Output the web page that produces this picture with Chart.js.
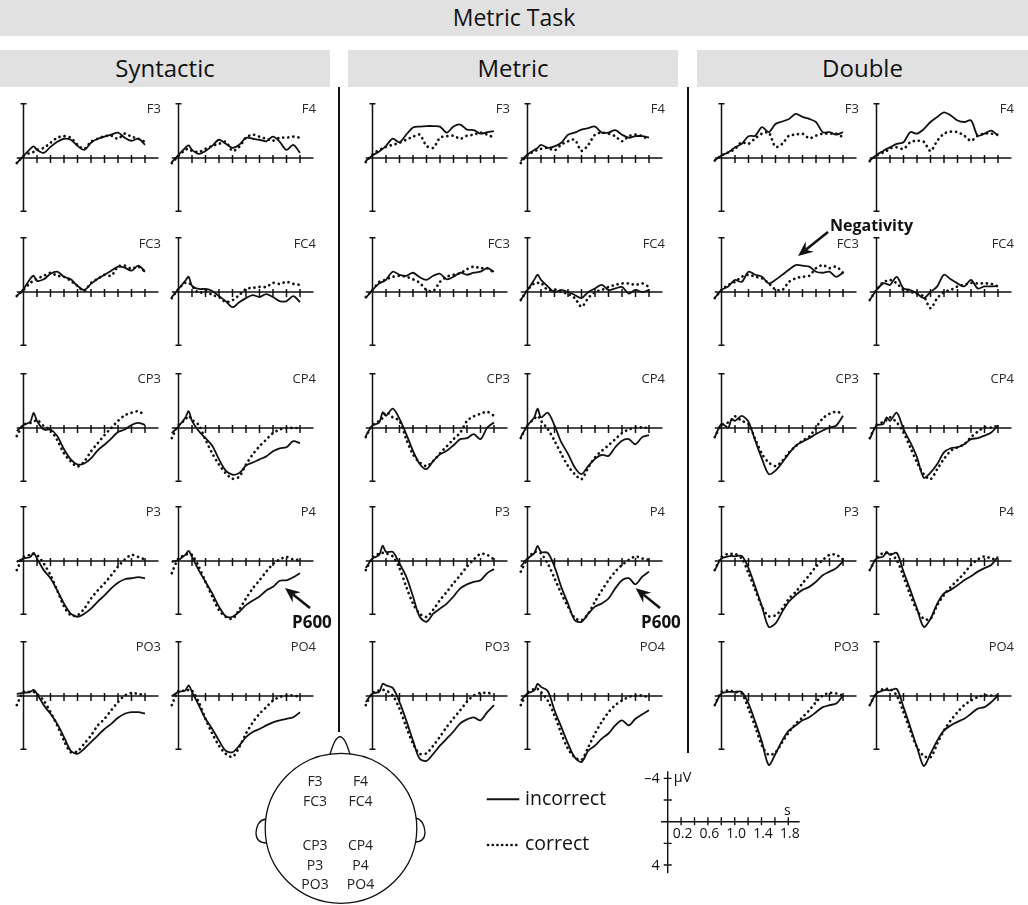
<!DOCTYPE html>
<html>
<head>
<meta charset="utf-8">
<title>Metric Task ERPs</title>
<script src="https://cdn.jsdelivr.net/npm/chart.js@4.4.1/dist/chart.umd.min.js"></script>
<style>
  html, body { margin: 0; padding: 0; background: #fff; }
  #page { position: relative; width: 1028px; height: 905px; overflow: hidden; font-family: 'Open Sans', 'Noto Sans', sans-serif; color: #111; }
  #page canvas { position: absolute; }
  .bar { position: absolute; background: #e1e1e1; text-align: center; }
  .sep { position: absolute; width: 2px; background: #111; }
  #overlay { position: absolute; left: 0; top: 0; pointer-events: none; }
</style>
</head>
<body>
<div id="page">
  <div class="bar" style="left:0;top:0;width:1028px;height:36px;font-size:23px;line-height:34px;">Metric Task</div>
  <div class="bar" style="left:0;top:50px;width:330px;height:37px;font-size:24px;line-height:35px;">Syntactic</div>
  <div class="bar" style="left:348px;top:50px;width:330px;height:37px;font-size:24px;line-height:35px;">Metric</div>
  <div class="bar" style="left:697px;top:50px;width:331px;height:37px;font-size:24px;line-height:35px;">Double</div>
  <div class="sep" style="left:338px;top:87px;height:645px;"></div>
  <div class="sep" style="left:687px;top:87px;height:666px;"></div>
</div>
<script>
// --- sample times (s) and tick marks ---
const time = [-0.1, 0, 0.1, 0.15, 0.2, 0.3, 0.4, 0.5, 0.6, 0.7, 0.8, 0.9, 1.0, 1.1, 1.2, 1.3, 1.4, 1.5, 1.6, 1.7, 1.8];
const xTicks = [0.2, 0.4, 0.6, 0.8, 1.0, 1.2, 1.4, 1.6, 1.8];
const conditions = ['Syntactic', 'Metric', 'Double'];
const electrodes = [['F3', 'F4'], ['FC3', 'FC4'], ['CP3', 'CP4'], ['P3', 'P4'], ['PO3', 'PO4']];

// scale bar
const scaleXTicks = [0.2, 0.4, 0.6, 0.8, 1.0, 1.2, 1.4, 1.6, 1.8];
const scaleXLabels = [0.2, 0.6, 1.0, 1.4, 1.8];
const scaleYTicks = [-4, -2, 2, 4];
const scaleYLabels = [-4, 4];

// --- amplitudes (negative plotted up) ---
// Syntactic
const synF3Inc = [0.5, -0.2, -0.9, -1.15, -0.8, -0.5, -1.1, -1.6, -1.9, -1.8, -1.2, -0.8, -1.5, -1.9, -2.1, -2.3, -2.5, -2.0, -1.7, -1.9, -1.3];
const synF3Cor = [0.5, -0.2, -0.5, -0.6, -0.8, -1.0, -1.5, -2.0, -2.15, -2.0, -1.3, -0.9, -1.6, -1.9, -2.15, -2.2, -1.9, -2.4, -2.1, -1.9, -1.6];
const synF4Inc = [0.4, -0.3, -1.0, -1.25, -0.8, -0.4, -0.7, -1.2, -1.8, -1.4, -1.0, -1.3, -2.0, -1.9, -1.8, -1.65, -2.1, -1.6, -0.8, -1.3, -0.5];
const synF4Cor = [0.5, -0.2, -0.8, -0.9, -0.7, -0.6, -0.9, -1.2, -1.4, -1.6, -0.7, -1.1, -2.0, -2.3, -2.1, -1.9, -1.7, -2.0, -2.0, -2.1, -2.0];
const synFC3Inc = [0.4, -0.3, -1.3, -1.6, -1.1, -1.25, -1.8, -2.0, -1.5, -1.25, -0.6, -0.2, -0.8, -1.3, -1.7, -2.1, -2.5, -2.4, -2.1, -2.6, -2.0];
const synFC3Cor = [0.4, -0.2, -0.9, -1.1, -1.3, -1.6, -1.9, -1.6, -1.5, -1.1, -0.6, -0.1, -0.9, -1.3, -1.7, -1.6, -2.5, -2.6, -2.3, -2.5, -2.0];
const synFC4Inc = [0.5, -0.3, -1.1, -1.5, -0.6, -0.3, -0.3, -0.1, 0.4, 0.9, 1.5, 1.0, 0.6, 0.3, 0.5, 0.2, 0.5, 0.9, 0.9, 0.4, 1.0];
const synFC4Cor = [0.6, -0.3, -0.9, -0.9, -0.6, 0.1, -0.1, 0.3, 0.5, 1.0, 0.8, 0.3, -0.3, -0.4, -0.5, -0.5, -0.9, -0.8, -1.0, -0.8, -0.7];
const synCP3Inc = [0.3, -0.3, -0.6, -1.5, -0.7, 0.15, 0.15, 0.8, 2.1, 3.1, 3.6, 3.5, 3.0, 2.2, 1.65, 1.05, 0.4, 0.15, -0.3, -0.5, -0.3];
const synCP3Cor = [0.8, -0.3, -0.5, -0.6, -0.8, -0.2, 0.2, 1.2, 2.5, 3.3, 3.8, 3.3, 2.3, 1.5, 0.7, 0.0, -0.7, -1.25, -1.5, -1.65, -1.25];
const synCP4Inc = [0.5, -0.15, -1.0, -1.65, -0.7, 0.3, 1.0, 1.75, 3.1, 4.2, 4.6, 4.45, 3.7, 3.4, 3.1, 2.8, 2.3, 2.0, 1.9, 1.3, 1.5];
const synCP4Cor = [1.0, -0.3, -0.8, -1.2, -0.8, -0.3, 1.15, 2.5, 3.6, 4.45, 5.0, 4.8, 3.6, 2.6, 1.8, 1.15, 0.5, 0.15, 0.0, 0.0, 0.0];
const synP3Inc = [0.1, -0.25, -0.4, -0.8, -0.25, 0.9, 1.7, 2.9, 4.2, 5.2, 5.5, 5.2, 4.7, 4.0, 3.4, 2.7, 2.15, 1.8, 1.7, 1.6, 1.7];
const synP3Cor = [0.9, -0.4, -0.6, -0.7, -0.6, 0.25, 1.4, 2.9, 4.5, 5.35, 5.35, 4.7, 3.7, 2.9, 2.2, 1.4, 0.55, -0.15, -0.6, -0.4, -0.15];
const synP4Inc = [0.1, -0.1, -0.6, -1.0, -0.4, 0.9, 2.05, 3.2, 4.5, 5.45, 5.5, 5.0, 4.35, 3.9, 3.5, 2.9, 2.55, 1.95, 1.9, 1.6, 1.2];
const synP4Cor = [1.2, -0.25, -0.6, -0.7, -0.6, 0.55, 2.05, 3.5, 4.85, 5.5, 5.7, 4.8, 3.7, 2.7, 1.9, 1.05, 0.3, -0.15, -0.4, -0.15, -0.1];
const synPO3Inc = [-0.2, -0.3, -0.4, -0.6, -0.2, 0.9, 1.75, 2.75, 4.05, 5.4, 5.7, 5.2, 4.55, 3.9, 3.25, 2.75, 2.15, 1.75, 1.6, 1.6, 1.75];
const synPO3Cor = [0.9, -0.4, -0.4, -0.4, -0.2, 0.45, 1.6, 2.9, 4.4, 5.55, 5.45, 4.7, 3.9, 2.9, 2.25, 1.4, 0.6, -0.05, -0.3, -0.2, -0.1];
const synPO4Inc = [0.0, -0.4, -0.55, -1.05, -0.4, 0.9, 2.25, 3.25, 4.4, 5.4, 5.55, 4.9, 4.05, 3.55, 3.25, 2.9, 2.6, 2.4, 2.25, 2.1, 1.6];
const synPO4Cor = [0.9, -0.5, -0.5, -0.6, -0.55, 0.6, 2.25, 3.7, 4.9, 5.7, 6.0, 5.05, 3.7, 2.6, 1.75, 1.1, 0.45, 0.1, -0.05, -0.05, 0.1];
// Metric
const metF3Inc = [0.3, -0.25, -0.65, -0.9, -1.2, -1.9, -1.55, -2.3, -3.0, -3.1, -3.15, -3.15, -3.1, -2.5, -3.1, -3.3, -2.8, -2.75, -2.4, -2.55, -2.65];
const metF3Cor = [0.4, -0.35, -0.8, -0.95, -1.1, -1.3, -1.5, -1.8, -2.1, -2.3, -1.2, -1.0, -2.0, -2.15, -2.2, -1.9, -2.2, -2.3, -2.5, -2.3, -2.0];
const metF4Inc = [0.3, -0.35, -0.8, -1.0, -1.3, -1.0, -1.15, -1.5, -2.3, -2.5, -2.8, -2.95, -3.1, -2.5, -2.5, -2.75, -2.3, -2.0, -2.15, -2.15, -2.0];
const metF4Cor = [0.5, -0.3, -0.65, -0.8, -0.9, -1.0, -0.75, -1.3, -1.65, -1.8, -0.7, -1.3, -2.3, -2.5, -2.4, -2.15, -1.65, -2.15, -2.3, -2.15, -1.8];
const metFC3Inc = [0.6, -0.2, -0.85, -1.0, -1.2, -2.0, -1.7, -1.6, -1.9, -1.45, -1.2, -1.6, -1.8, -1.25, -1.5, -1.9, -1.7, -1.9, -2.0, -2.35, -2.0];
const metFC3Cor = [0.5, -0.2, -1.0, -1.1, -1.25, -1.5, -1.6, -1.5, -1.25, -0.9, -0.2, -0.1, -1.0, -1.5, -1.7, -1.85, -2.25, -2.5, -2.35, -2.35, -1.9];
const metFC4Inc = [0.8, -0.2, -1.2, -1.7, -1.2, -0.55, 0.0, -0.2, 0.0, 0.3, 0.6, 0.0, -0.35, -0.7, -0.2, -0.35, -0.5, 0.15, -0.2, 0.0, -0.2];
const metFC4Cor = [0.8, -0.2, -0.85, -0.9, -0.9, -0.2, -0.25, 0.0, 0.2, 0.6, 1.45, 0.6, 0.0, -0.2, -0.5, -0.7, -0.85, -0.85, -0.7, -0.85, -0.5];
const metCP3Inc = [0.8, -0.25, -0.55, -1.55, -1.2, -1.9, -0.9, 0.6, 2.25, 3.55, 4.05, 3.25, 2.6, 2.25, 1.7, 1.1, 1.0, 0.6, 1.1, -0.05, -0.55];
const metCP3Cor = [0.9, -0.3, -0.7, -1.0, -1.55, -1.05, -0.7, 1.1, 2.6, 3.4, 3.75, 3.25, 2.5, 1.8, 1.1, 0.45, -0.7, -1.15, -1.4, -1.6, -1.2];
const metCP4Inc = [0.9, -0.25, -1.05, -1.9, -1.05, -1.5, -0.25, 1.4, 2.55, 3.9, 4.55, 3.75, 3.05, 2.65, 2.75, 1.9, 1.25, 1.1, 1.6, 0.9, 0.7];
const metCP4Cor = [1.0, -0.3, -0.9, -1.2, -0.7, 0.1, 1.25, 2.55, 3.75, 4.55, 5.05, 3.9, 2.9, 2.25, 1.7, 1.1, 0.5, 0.15, -0.05, -0.05, 0.0];
const metP3Inc = [0.7, -0.25, -0.6, -1.5, -0.9, -0.9, 0.25, 1.55, 3.5, 5.5, 6.0, 5.2, 4.7, 4.2, 3.5, 2.7, 2.3, 2.05, 1.9, 1.2, 0.8];
const metP3Cor = [0.9, -0.3, -0.75, -0.8, -0.75, -0.45, 0.7, 2.55, 4.2, 5.2, 5.5, 4.8, 3.85, 3.05, 2.2, 1.4, 0.55, -0.15, -0.7, -0.6, -0.15];
const metP4Inc = [0.55, -0.25, -0.75, -1.5, -0.9, -0.8, 0.55, 2.55, 4.2, 5.85, 6.0, 5.2, 4.5, 4.2, 3.7, 2.7, 1.9, 1.7, 2.3, 1.55, 1.05];
const metP4Cor = [1.05, -0.2, -0.9, -0.85, -0.75, 0.25, 1.7, 3.2, 4.5, 5.6, 5.85, 5.2, 4.0, 2.9, 1.9, 1.05, 0.4, -0.1, -0.45, -0.25, -0.1];
const metPO3Inc = [0.6, -0.25, -0.4, -1.2, -1.05, -0.8, 0.6, 2.4, 4.4, 6.2, 6.4, 5.7, 4.9, 4.2, 3.5, 2.7, 2.3, 2.1, 2.4, 1.6, 0.9];
const metPO3Cor = [0.9, -0.3, -0.55, -0.6, -0.55, -0.05, 1.25, 3.05, 4.7, 5.7, 5.65, 4.9, 4.0, 3.05, 2.2, 1.4, 0.55, -0.05, -0.3, -0.3, -0.2];
const metPO4Inc = [0.45, -0.25, -0.55, -1.2, -0.9, -0.5, 1.4, 3.05, 4.7, 6.05, 6.5, 5.4, 4.9, 4.2, 3.7, 2.9, 2.4, 2.9, 2.25, 1.8, 1.4];
const metPO4Cor = [0.9, -0.3, -0.7, -0.7, -0.4, 0.45, 1.9, 3.7, 5.2, 6.05, 6.3, 5.05, 3.7, 2.55, 1.6, 0.9, 0.45, 0.1, -0.05, -0.05, 0.15];
// Double
const dblF3Inc = [0.25, -0.25, -0.55, -0.8, -1.05, -1.4, -2.15, -2.2, -3.05, -2.55, -3.35, -3.6, -3.85, -4.35, -4.05, -3.85, -3.55, -2.55, -2.55, -2.3, -2.55];
const dblF3Cor = [0.25, -0.25, -0.55, -0.7, -0.9, -1.55, -1.4, -1.95, -2.4, -2.5, -1.1, -1.4, -2.2, -2.3, -2.4, -1.95, -2.2, -2.4, -2.4, -2.4, -2.05];
const dblF4Inc = [0.25, -0.3, -0.7, -0.9, -1.05, -1.4, -1.55, -2.55, -2.4, -2.85, -3.55, -4.05, -4.5, -4.2, -3.7, -3.55, -3.7, -2.2, -2.4, -2.7, -2.2];
const dblF4Cor = [0.3, -0.25, -0.55, -0.7, -0.95, -1.05, -0.9, -1.55, -1.7, -1.6, -0.7, -1.7, -2.4, -2.6, -2.55, -2.2, -1.7, -2.2, -2.4, -2.4, -2.3];
const dblFC3Inc = [0.6, -0.2, -0.55, -0.9, -1.2, -1.0, -2.0, -1.7, -1.5, -0.85, -1.2, -1.7, -2.2, -2.65, -2.6, -2.5, -2.0, -1.9, -2.0, -1.5, -1.9];
const dblFC3Cor = [0.6, -0.2, -0.7, -0.85, -1.0, -1.5, -1.7, -1.5, -1.35, -0.85, -0.25, -0.2, -1.0, -1.35, -1.5, -1.6, -2.35, -2.65, -2.35, -2.5, -1.9];
const dblFC4Inc = [0.8, -0.2, -0.85, -0.8, -0.7, -1.5, -0.35, -0.2, 0.15, 0.6, 0.0, -0.55, -1.7, -1.25, -0.85, -0.55, -1.2, -0.35, -0.55, -0.55, -0.6];
const dblFC4Cor = [0.8, -0.2, -1.0, -1.1, -1.2, -0.85, -0.2, 0.0, 0.15, 0.45, 1.6, 0.6, 0.0, -0.2, -0.55, -0.7, -0.9, -0.85, -0.85, -0.8, -0.55];
const dblCP3Inc = [0.9, -0.4, -0.05, -0.9, -0.7, -1.2, -0.6, 1.25, 3.05, 4.55, 4.2, 3.4, 2.5, 1.75, 1.35, 1.0, 0.6, 0.25, -0.05, -0.25, -1.2];
const dblCP3Cor = [0.9, -0.3, -0.55, -0.8, -1.15, -0.7, -0.4, 1.1, 2.55, 3.4, 3.75, 3.25, 2.4, 1.8, 1.25, 0.85, -0.05, -0.95, -1.4, -1.6, -1.4];
const dblCP4Inc = [1.1, -0.25, -0.4, -1.05, -0.7, -1.5, 0.1, 1.4, 2.9, 4.9, 4.4, 3.55, 2.4, 2.0, 1.9, 1.6, 1.1, 1.0, 0.75, 0.45, -0.25];
const dblCP4Cor = [1.0, -0.3, -0.6, -0.8, -1.05, -0.55, 0.45, 1.9, 3.4, 4.55, 5.05, 4.05, 3.05, 2.25, 1.9, 1.6, 0.9, 0.35, -0.05, -0.05, -0.25];
const dblP3Inc = [0.9, -0.25, -0.45, -0.5, -0.45, -0.5, 0.7, 2.55, 4.5, 6.5, 6.15, 5.0, 4.0, 3.35, 2.85, 2.55, 2.05, 1.4, 1.05, 0.7, 0.05];
const dblP3Cor = [0.9, -0.4, -0.7, -0.7, -0.7, -0.25, 1.2, 2.85, 4.5, 5.45, 5.35, 4.7, 3.7, 3.05, 2.2, 1.4, 0.55, -0.1, -0.6, -0.6, -0.15];
const dblP4Inc = [0.9, -0.25, -0.45, -0.9, -0.6, -0.8, 1.05, 2.85, 4.7, 6.5, 5.7, 4.2, 3.2, 2.85, 2.4, 1.9, 1.5, 1.05, 0.7, 0.4, -0.45];
const dblP4Cor = [0.9, -0.3, -0.8, -0.8, -0.75, -0.1, 1.55, 3.35, 4.85, 5.7, 5.7, 4.35, 3.35, 2.55, 1.9, 1.2, 0.4, -0.15, -0.45, -0.25, -0.1];
const dblPO3Inc = [0.9, -0.25, -0.4, -0.4, -0.4, -0.4, 0.75, 2.55, 4.55, 6.8, 5.7, 4.4, 3.4, 2.9, 2.4, 2.1, 1.6, 1.1, 0.9, 0.75, -0.05];
const dblPO3Cor = [0.9, -0.4, -0.55, -0.5, -0.4, -0.25, 1.25, 3.05, 4.9, 5.8, 5.55, 4.55, 3.55, 2.75, 2.1, 1.4, 0.6, -0.05, -0.3, -0.25, -0.05];
const dblPO4Inc = [0.9, -0.25, -0.55, -0.6, -0.55, -0.7, 1.1, 3.05, 5.05, 6.9, 5.7, 4.4, 3.4, 2.9, 2.55, 2.25, 1.75, 1.25, 1.1, 0.6, -0.05];
const dblPO4Cor = [0.9, -0.3, -0.7, -0.7, -0.7, -0.05, 1.6, 3.4, 5.05, 5.9, 6.05, 4.7, 3.4, 2.4, 1.6, 0.9, 0.45, 0.1, -0.05, -0.05, -0.05];

// lookup: condition -> electrode -> [incorrect, correct]
const series = {
  Syntactic: { F3: [synF3Inc, synF3Cor], F4: [synF4Inc, synF4Cor], FC3: [synFC3Inc, synFC3Cor], FC4: [synFC4Inc, synFC4Cor],
    CP3: [synCP3Inc, synCP3Cor], CP4: [synCP4Inc, synCP4Cor], P3: [synP3Inc, synP3Cor], P4: [synP4Inc, synP4Cor],
    PO3: [synPO3Inc, synPO3Cor], PO4: [synPO4Inc, synPO4Cor] },
  Metric: { F3: [metF3Inc, metF3Cor], F4: [metF4Inc, metF4Cor], FC3: [metFC3Inc, metFC3Cor], FC4: [metFC4Inc, metFC4Cor],
    CP3: [metCP3Inc, metCP3Cor], CP4: [metCP4Inc, metCP4Cor], P3: [metP3Inc, metP3Cor], P4: [metP4Inc, metP4Cor],
    PO3: [metPO3Inc, metPO3Cor], PO4: [metPO4Inc, metPO4Cor] },
  Double: { F3: [dblF3Inc, dblF3Cor], F4: [dblF4Inc, dblF4Cor], FC3: [dblFC3Inc, dblFC3Cor], FC4: [dblFC4Inc, dblFC4Cor],
    CP3: [dblCP3Inc, dblCP3Cor], CP4: [dblCP4Inc, dblCP4Cor], P3: [dblP3Inc, dblP3Cor], P4: [dblP4Inc, dblP4Cor],
    PO3: [dblPO3Inc, dblPO3Cor], PO4: [dblPO4Inc, dblPO4Cor] }
};

// --- layout ---
const PX_PER_S = 67.5;
const X_MIN = -0.2, CANVAS_W = 155, X_MAX = X_MIN + CANVAS_W / PX_PER_S;
const Y_LIM = 7.2, CANVAS_H = 146;
const AXIS_TOP = -5.35, AXIS_BOTTOM = 5.25;
const condOffset = [0, 349, 698];
const colX = [23, 178];
const rowY = [157.5, 292.3, 427.5, 561, 695.7];
const INK = '#111';

const page = document.getElementById('page');

function addText(str, style) {
  const d = document.createElement('div');
  d.textContent = str;
  d.style.position = 'absolute';
  d.style.whiteSpace = 'nowrap';
  Object.assign(d.style, style);
  page.appendChild(d);
  return d;
}

// ERP axes: y axis with end caps, x axis with ticks through zero
const erpAxes = {
  id: 'erpAxes',
  beforeDatasetsDraw(chart) {
    const { ctx, scales: { x, y } } = chart;
    const x0 = x.getPixelForValue(0), y0 = y.getPixelForValue(0);
    const yt = y.getPixelForValue(AXIS_TOP), yb = y.getPixelForValue(AXIS_BOTTOM);
    ctx.save();
    ctx.strokeStyle = INK;
    ctx.lineWidth = 1.5;
    ctx.beginPath();
    ctx.moveTo(x0, yt); ctx.lineTo(x0, yb);
    ctx.moveTo(x0 - 3, yt); ctx.lineTo(x0 + 3, yt);
    ctx.moveTo(x0 - 3, yb); ctx.lineTo(x0 + 3, yb);
    ctx.moveTo(x.getPixelForValue(-0.1), y0); ctx.lineTo(x.getPixelForValue(2.0), y0);
    xTicks.forEach(t => {
      const px = x.getPixelForValue(t);
      ctx.moveTo(px, y0 - 3); ctx.lineTo(px, y0 + 5);
    });
    ctx.stroke();
    ctx.restore();
  }
};

const toPoints = vals => time.map((t, i) => ({ x: t, y: vals[i] }));

function makePanel(left, top, incorrect, correct) {
  const canvas = document.createElement('canvas');
  canvas.width = CANVAS_W;
  canvas.height = CANVAS_H;
  canvas.style.left = left + 'px';
  canvas.style.top = top + 'px';
  page.appendChild(canvas);

  new Chart(canvas, {
    type: 'line',
    data: {
      datasets: [
        { label: 'correct', data: toPoints(correct), borderColor: INK, borderWidth: 2.7,
          borderDash: [0.1, 5], borderCapStyle: 'round', pointRadius: 0, tension: 0.3, fill: false },
        { label: 'incorrect', data: toPoints(incorrect), borderColor: INK, borderWidth: 1.8,
          borderJoinStyle: 'round', pointRadius: 0, tension: 0.3, fill: false }
      ]
    },
    options: {
      responsive: false, animation: false, events: [],
      layout: { padding: 0 },
      plugins: { legend: { display: false }, tooltip: { enabled: false } },
      scales: {
        x: { type: 'linear', min: X_MIN, max: X_MAX, display: false },
        y: { type: 'linear', min: -Y_LIM, max: Y_LIM, reverse: true, display: false }
      }
    },
    plugins: [erpAxes]
  });
}

conditions.forEach((cond, ci) => {
  electrodes.forEach((pair, ri) => {
    pair.forEach((el, side) => {
      const x0 = condOffset[ci] + colX[side];
      const y0 = rowY[ri];
      const [inc, cor] = series[cond][el];
      makePanel(x0 + X_MIN * PX_PER_S, y0 - CANVAS_H / 2, inc, cor);
      addText(el, { left: (x0 + 138 - 50) + 'px', width: '50px', textAlign: 'right', top: (y0 - 55.6) + 'px',
        fontSize: '13px', lineHeight: '13px', color: '#2a2a2a' });
    });
  });
});

// --- scale bar (-4..4 µV, 0..1.8 s) ---
const scaleBar = {
  id: 'scaleBar',
  afterDraw(chart) {
    const { ctx, scales: { x, y } } = chart;
    const x0 = x.getPixelForValue(0), y0 = y.getPixelForValue(0);
    ctx.save();
    ctx.strokeStyle = INK;
    ctx.lineWidth = 1.4;
    ctx.beginPath();
    ctx.moveTo(x0, y.getPixelForValue(-4.65)); ctx.lineTo(x0, y.getPixelForValue(4.75));
    ctx.moveTo(x.getPixelForValue(-0.1), y0); ctx.lineTo(x.getPixelForValue(1.97), y0);
    scaleYTicks.forEach(v => { const py = y.getPixelForValue(v); ctx.moveTo(x0 - 4, py); ctx.lineTo(x0 + 4, py); });
    scaleXTicks.forEach(v => { const px = x.getPixelForValue(v); ctx.moveTo(px, y0 - 4.4); ctx.lineTo(px, y0 + 3.5); });
    ctx.stroke();
    ctx.fillStyle = INK;
    ctx.font = "14px 'Open Sans'";
    ctx.textAlign = 'center';
    ctx.textBaseline = 'alphabetic';
    scaleXLabels.forEach(v => ctx.fillText(v.toFixed(1), x.getPixelForValue(v) + 1.5, y0 + 16));
    ctx.fillText('s', x.getPixelForValue(1.8) - 1, y0 - 7);
    ctx.textAlign = 'right';
    ctx.textBaseline = 'middle';
    ctx.font = "14.5px 'Open Sans'";
    scaleYLabels.forEach(v => ctx.fillText(v < 0 ? '\u2013' + Math.abs(v) : String(v), x0 - 8, y.getPixelForValue(v) + 0.5));
    ctx.textAlign = 'left';
    ctx.fillText('\u00b5V', x0 + 6, y.getPixelForValue(-4) - 1);
    ctx.restore();
  }
};

(function () {
  const SB_PX_S = 67, SB_PX_UV = 10.83;
  const left = 636, top = 765, w = 180, h = 115, zx = 667.7, zy = 821.7;
  const canvas = document.createElement('canvas');
  canvas.width = w; canvas.height = h;
  canvas.style.left = left + 'px'; canvas.style.top = top + 'px';
  page.appendChild(canvas);
  const xmin = -(zx - left) / SB_PX_S;
  const ymin = -(zy - top) / SB_PX_UV;
  new Chart(canvas, {
    type: 'line',
    data: { datasets: [] },
    options: {
      responsive: false, animation: false, events: [],
      layout: { padding: 0 },
      plugins: { legend: { display: false }, tooltip: { enabled: false } },
      scales: {
        x: { type: 'linear', min: xmin, max: xmin + w / SB_PX_S, display: false },
        y: { type: 'linear', min: ymin, max: ymin + h / SB_PX_UV, reverse: true, display: false }
      }
    },
    plugins: [scaleBar]
  });
})();

// --- overlay: head diagram, legend samples, arrows ---
const NS = 'http://www.w3.org/2000/svg';
const svg = document.createElementNS(NS, 'svg');
svg.setAttribute('id', 'overlay');
svg.setAttribute('width', 1028);
svg.setAttribute('height', 905);
page.appendChild(svg);

function svgEl(tag, attrs) {
  const e = document.createElementNS(NS, tag);
  Object.entries(attrs).forEach(([k, v]) => e.setAttribute(k, v));
  svg.appendChild(e);
  return e;
}

// head
svgEl('ellipse', { cx: 341, cy: 828.3, rx: 75.8, ry: 75, fill: 'none', stroke: INK, 'stroke-width': 1.3 });
svgEl('path', { d: 'M330 754.5 Q340 719 350 754.5', fill: 'none', stroke: INK, 'stroke-width': 1.3 });
svgEl('path', { d: 'M266 819 Q257 820 256 833 Q256 843 267 843', fill: 'none', stroke: INK, 'stroke-width': 1.3 });
svgEl('path', { d: 'M416 818 Q424 820 425 832 Q425 842 415 842', fill: 'none', stroke: INK, 'stroke-width': 1.3 });

const headRows = [['F3', 'F4', 786.7], ['FC3', 'FC4', 806.7], ['CP3', 'CP4', 850.7], ['P3', 'P4', 870], ['PO3', 'PO4', 889.3]];
headRows.forEach(([a, b, base]) => {
  addText(a, { left: (315 - 25) + 'px', width: '50px', textAlign: 'center', top: (base - 12.4) + 'px', fontSize: '14px', lineHeight: '14px', color: '#222' });
  addText(b, { left: (360.5 - 25) + 'px', width: '50px', textAlign: 'center', top: (base - 12.4) + 'px', fontSize: '14px', lineHeight: '14px', color: '#222' });
});

// legend
svgEl('line', { x1: 486.7, y1: 799.3, x2: 519.3, y2: 799.3, stroke: INK, 'stroke-width': 2 });
svgEl('line', { x1: 488, y1: 845, x2: 520, y2: 845, stroke: INK, 'stroke-width': 2.7, 'stroke-dasharray': '0.1 4.6', 'stroke-linecap': 'round' });
addText('incorrect', { left: '525px', top: '787.7px', fontSize: '19.5px', lineHeight: '19.5px' });
addText('correct', { left: '525px', top: '832.7px', fontSize: '19.5px', lineHeight: '19.5px' });

// annotation arrows
function arrow(tip, tail) {
  const dx = tail[0] - tip[0], dy = tail[1] - tip[1];
  const len = Math.hypot(dx, dy), ux = dx / len, uy = dy / len;
  const headLen = 15, halfW = 6.5, notch = 10;
  const bx = tip[0] + ux * headLen, by = tip[1] + uy * headLen;
  const p1 = [bx - uy * halfW, by + ux * halfW], p2 = [bx + uy * halfW, by - ux * halfW];
  const n = [tip[0] + ux * notch, tip[1] + uy * notch];
  svgEl('line', { x1: n[0], y1: n[1], x2: tail[0], y2: tail[1], stroke: INK, 'stroke-width': 2.5 });
  svgEl('polygon', { points: [tip, p1, n, p2].map(p => p.join(',')).join(' '), fill: INK });
}
arrow([285, 588], [310, 608]);
arrow([635.7, 588.3], [660, 608]);
arrow([798, 256], [828, 232]);
addText('P600', { left: '292px', top: '613px', fontSize: '17px', lineHeight: '17px', fontWeight: 'bold' });
addText('P600', { left: '641px', top: '613px', fontSize: '17px', lineHeight: '17px', fontWeight: 'bold' });
addText('Negativity', { left: '830px', top: '217px', fontSize: '16px', lineHeight: '16px', fontWeight: 'bold' });
</script>
</body>
</html>
